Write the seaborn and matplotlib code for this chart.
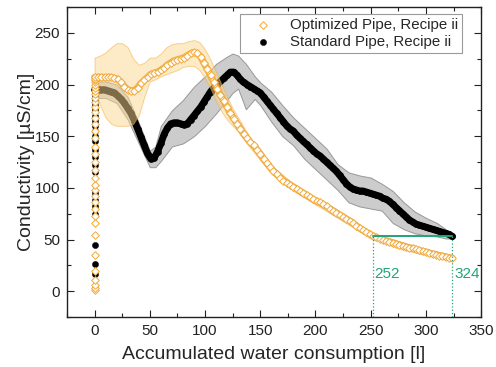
import matplotlib
matplotlib.use("Agg")
import matplotlib.pyplot as plt
from matplotlib.ticker import MultipleLocator
import seaborn as sns
import pandas as pd

# Accumulated water consumption grid (litres) for the rinse curves
water_l = list(range(0, 325, 3))

# Conductivity during the rinse, optimized pipe (µS/cm)
opt_cond = [207, 207, 207, 207, 207, 207, 206, 205, 202, 198,
            195, 194, 194, 197, 201, 204, 207, 210, 211, 212,
            214, 216, 219, 221, 223, 224, 225, 226, 228, 230,
            231, 230, 227, 221, 215, 209, 202, 196, 190, 184,
            178, 172, 167, 162, 157, 152, 148, 144, 141, 137,
            133, 128, 124, 120, 116, 113, 110, 107, 105, 103,
            101, 99, 97, 95, 93, 91, 89, 87, 86, 84,
            82, 80, 78, 76, 74, 72, 70, 68, 66, 63.5,
            61, 59, 57, 55, 53, 52, 51, 50, 49, 48,
            47, 46, 45, 44, 43, 42, 41.5, 40.5, 39.5, 38.5,
            38, 37, 36, 35.5, 34.5, 34, 33, 32.5, 32]

# Conductivity during the rinse, standard pipe (µS/cm)
std_cond = [195, 195, 195, 195, 194, 193, 192, 189, 186, 182,
            177, 172, 165, 157, 149, 141, 133, 128, 129, 135,
            143, 152, 158, 162, 163, 163, 162, 161, 162, 166,
            170, 174, 178, 183, 188, 193, 197, 200, 203, 206,
            209, 212, 212, 209, 205, 202, 200, 198, 196, 194,
            192, 188, 184, 180, 176, 172, 168, 164, 160, 157,
            155, 151, 148, 145, 142, 139, 136, 133, 131, 128,
            125, 122, 119, 116, 112, 108, 104, 101, 99, 98,
            97, 97, 96, 95, 94, 93, 92, 90, 89, 87,
            84, 81, 78, 75, 72, 69, 67, 65, 64, 63,
            62, 61, 60, 59, 58, 57, 56, 55, 53]

# Fill-up readings taken before any water had passed (x = 0)
opt_fill_cond = [1, 3, 6, 11, 20, 35, 54, 66, 73, 80, 86, 92, 98, 103, 110,
                 117, 125, 133, 140, 148, 155, 162, 168, 173, 178, 183, 187,
                 191, 194, 197, 200, 202, 204, 205]
std_fill_cond = [17, 26, 45, 75, 82, 88, 95, 115, 122, 130, 137, 145, 150,
                 155, 160, 165, 170, 175, 180, 185, 190, 193]

# Spread between repeated runs (upper / lower envelope)
opt_band_x = [0, 5, 10, 15, 20, 25, 30, 35, 40, 45, 50, 55, 60, 65, 70, 75,
              80, 85, 90, 95, 100, 105, 110, 115, 120, 125, 130, 140, 160,
              180, 200, 220, 240, 260, 280, 300, 324]
opt_band_hi = [226, 228, 231, 236, 240, 240, 236, 225, 219, 221, 226, 226,
               230, 236, 239, 240, 240, 242, 243, 241, 234, 224, 212, 200,
               188, 177, 168, 150, 122, 104, 90, 77, 64, 53, 47, 41, 35]
opt_band_lo = [193, 180, 168, 162, 160, 160, 160, 162, 170, 188, 203, 205,
               208, 210, 212, 214, 217, 218, 218, 214, 206, 196, 184, 174,
               166, 160, 155, 140, 114, 97, 84, 71, 58, 47, 40, 35, 29]

std_band_x = [0, 10, 20, 30, 40, 50, 55, 60, 70, 80, 90, 100, 110, 120, 125,
              130, 137, 145, 150, 160, 170, 180, 190, 200, 210, 220, 230, 240,
              250, 260, 270, 280, 290, 300, 310, 318, 324]
std_band_hi = [203, 203, 200, 188, 163, 136, 140, 160, 175, 185, 198, 208,
               220, 227, 230, 228, 220, 208, 202, 193, 180, 168, 158, 148,
               138, 123, 115, 112, 110, 104, 97, 86, 77, 71, 66, 60, 55]
std_band_lo = [187, 187, 182, 166, 143, 120, 120, 126, 140, 143, 150, 160,
               172, 185, 192, 196, 176, 186, 180, 164, 150, 141, 128, 118,
               108, 98, 86, 82, 80, 78, 66, 60, 56, 54, 53, 51, 51]

# Volume needed by each pipe to reach the same final conductivity
cross_level = 53
opt_volume = 252
std_volume = 324

orange = "#F2A93B"
green = "#22A37A"

sns.set_theme(style="ticks")
plt.rcParams["font.family"] = ["Liberation Sans", "DejaVu Sans"]

opt_df = pd.DataFrame({"water": [0] * len(opt_fill_cond) + water_l,
                       "cond": opt_fill_cond + opt_cond})
std_df = pd.DataFrame({"water": [0] * len(std_fill_cond) + water_l,
                       "cond": std_fill_cond + std_cond})
opt_run = pd.DataFrame({"water": water_l, "cond": opt_cond})
std_run = pd.DataFrame({"water": water_l, "cond": std_cond})

fig = plt.figure(figsize=(4.96, 3.67), dpi=100)
ax = fig.add_axes([0.135, 0.136, 0.835, 0.845])

# Standard pipe: grey envelope and a dense chain of filled black dots
ax.fill_between(std_band_x, std_band_lo, std_band_hi, facecolor="#c4c4c4",
                edgecolor="#8a8a8a", linewidth=0.7, alpha=0.85, zorder=1)
sns.lineplot(data=std_run, x="water", y="cond", color="black", lw=5.0,
             solid_capstyle="round", ax=ax, zorder=2, legend=False)
sns.scatterplot(data=std_df, x="water", y="cond", marker="o", s=20,
                color="black", edgecolor="black", linewidth=0.3, ax=ax,
                zorder=2, label="Standard Pipe, Recipe ii")

# Optimized pipe: orange envelope and a chain of hollow diamonds
ax.fill_between(opt_band_x, opt_band_lo, opt_band_hi, facecolor="#fbd98f",
                edgecolor=orange, linewidth=0.7, alpha=0.5, zorder=3)
sns.lineplot(data=opt_run, x="water", y="cond", color=orange, lw=5.0,
             alpha=0.85, ax=ax, zorder=4, legend=False)
sns.lineplot(data=opt_run, x="water", y="cond", color="white", lw=2.2,
             ax=ax, zorder=4, legend=False)
sns.scatterplot(data=opt_df, x="water", y="cond", marker="D", s=15,
                color="white", edgecolor=orange, linewidth=0.7, ax=ax,
                zorder=4, label="Optimized Pipe, Recipe ii")

# Equal-conductivity marker and volume read-outs
ax.plot([opt_volume, std_volume], [cross_level, cross_level], color=green,
        lw=1.4, zorder=5)
for vol in (opt_volume, std_volume):
    ax.plot([vol, vol], [-25, cross_level], color=green, lw=0.9, ls=":",
            zorder=5)
    ax.text(vol + 1.5, 17, f"{vol}", color=green, fontsize=11,
            ha="left", va="center", zorder=6)

ax.set_xlim(-25, 350)
ax.set_ylim(-25, 275)
ax.xaxis.set_major_locator(MultipleLocator(50))
ax.xaxis.set_minor_locator(MultipleLocator(25))
ax.yaxis.set_major_locator(MultipleLocator(50))
ax.yaxis.set_minor_locator(MultipleLocator(25))
ax.tick_params(which="both", direction="in", top=True, right=True,
               labelsize=11, colors="#222222", width=0.8, pad=5)
ax.tick_params(which="major", length=5)
ax.tick_params(which="minor", length=3)
for sp in ax.spines.values():
    sp.set_linewidth(1.0)
    sp.set_color("#222222")

ax.set_xlabel("Accumulated water consumption [l]", fontsize=14, labelpad=6)
ax.set_ylabel("Conductivity [µS/cm]", fontsize=14, labelpad=0)

handles, labels = ax.get_legend_handles_labels()
order = [labels.index("Optimized Pipe, Recipe ii"),
         labels.index("Standard Pipe, Recipe ii")]
leg = ax.legend([handles[i] for i in order], [labels[i] for i in order],
                loc="upper right", bbox_to_anchor=(0.955, 0.978),
                borderaxespad=0, fontsize=10.8, frameon=True, fancybox=False,
                framealpha=1, edgecolor="#9a9a9a", handletextpad=0.6,
                handlelength=2.4, borderpad=0.3, labelspacing=0.15,
                markerscale=1.0)
leg.get_frame().set_linewidth(0.8)

fig.savefig("out.png", dpi=100)
